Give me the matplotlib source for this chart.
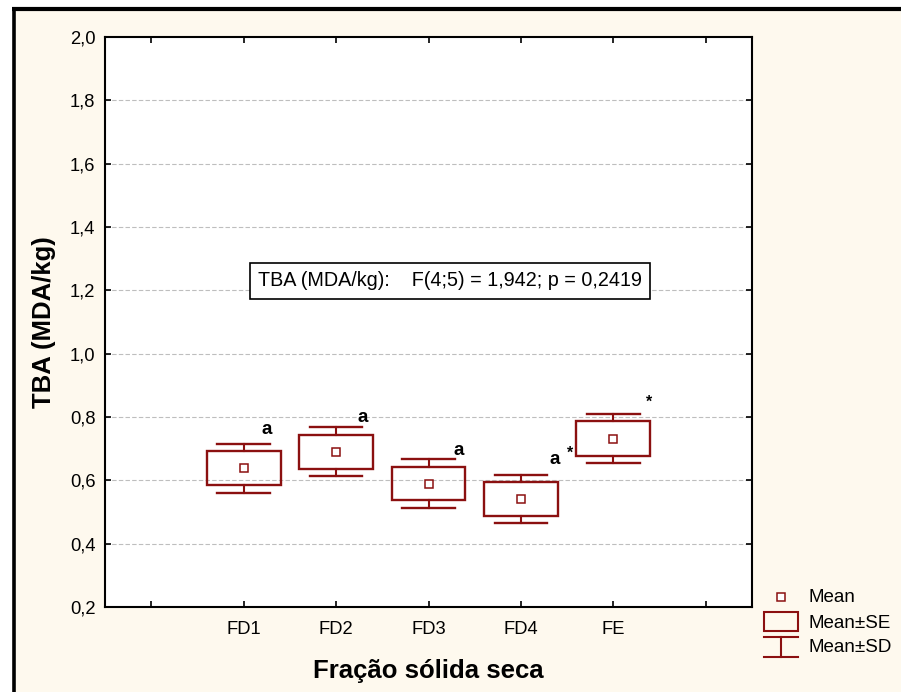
import matplotlib
matplotlib.use("Agg")
import matplotlib.pyplot as plt
from matplotlib.patches import Rectangle
from matplotlib.lines import Line2D

plt.rcParams['font.family'] = ['Liberation Sans', 'DejaVu Sans']

# Data: TBA (MDA/kg) per dried solid fraction
categories = ["FD1", "FD2", "FD3", "FD4", "FE"]
means = [0.638, 0.690, 0.590, 0.541, 0.732]
se = [0.054, 0.053, 0.053, 0.054, 0.054]
sd = [0.077, 0.077, 0.077, 0.077, 0.076]
letters = ["a", "a", "a", "a", ""]
stars = ["", "", "", "*", "*"]
anova_text = "TBA (MDA/kg):    F(4;5) = 1,942; p = 0,2419"

W, H = 901, 692
RED = "#8B1010"
CREAM = "#FEF9EE"

fig = plt.figure(figsize=(W / 100, H / 100), dpi=100, facecolor="white")


def px(x, y):
    return x / W, 1 - y / H


# cream panel with heavy top/left frame
x0, y0 = px(12, 9)
fig.add_artist(Rectangle((x0, 0), 1 - x0, y0, transform=fig.transFigure,
                         facecolor=CREAM, edgecolor="none", zorder=0))
fig.add_artist(Line2D([x0, 1], [y0, y0], transform=fig.transFigure,
                      color="black", lw=3.0, solid_capstyle="butt"))
fig.add_artist(Line2D([13.5 / W, 13.5 / W], [0, 1 - 7 / H], transform=fig.transFigure,
                      color="black", lw=2.6, solid_capstyle="butt"))

ax = fig.add_axes([105 / W, 1 - 607 / H, (752 - 105) / W, (607 - 37) / H])
ax.set_facecolor("white")

positions = list(range(len(categories)))
box_half = 0.40
cap_half = 0.283

for x, m, s_e, s_d in zip(positions, means, se, sd):
    ax.add_patch(Rectangle((x - box_half, m - s_e), 2 * box_half, 2 * s_e,
                           facecolor="none", edgecolor=RED, lw=1.7, zorder=3))
    ax.plot([x, x], [m + s_e, m + s_d], color=RED, lw=1.5, zorder=3)
    ax.plot([x, x], [m - s_e, m - s_d], color=RED, lw=1.5, zorder=3)
    ax.plot([x - cap_half, x + cap_half], [m + s_d, m + s_d], color=RED, lw=1.7, zorder=3)
    ax.plot([x - cap_half, x + cap_half], [m - s_d, m - s_d], color=RED, lw=1.7, zorder=3)
ax.plot(positions, means, linestyle="none", marker="s", ms=5.5, mfc="white",
        mec=RED, mew=1.1, zorder=4)

# group letters and significance marks
letter_dx = [0.25, 0.29, 0.33, 0.37, 0.0]
letter_dy = [0.045, 0.033, 0.027, 0.048, 0.0]
for x, m, s_d, lt, dx, dy in zip(positions, means, sd, letters, letter_dx, letter_dy):
    if lt:
        ax.text(x + dx, m + s_d + dy, lt, ha="center", va="center",
                fontsize=13.5, fontweight="bold", zorder=5)
star_dx = [0, 0, 0, 0.53, 0.39]
star_dy = [0, 0, 0, 0.068, 0.038]
for x, m, s_d, st, dx, dy in zip(positions, means, sd, stars, star_dx, star_dy):
    if st:
        ax.text(x + dx, m + s_d + dy, st, ha="center", va="center",
                fontsize=11.5, fontweight="bold", zorder=5)

ax.set_xlim(-1.5, 5.5)
ax.set_ylim(0.2, 2.0)
ax.set_xticks(range(-1, 6))
ax.set_xticklabels([""] + categories + [""])
yt = [0.2 + 0.2 * i for i in range(10)]
ax.set_yticks(yt)
ax.set_yticklabels([f"{v:.1f}".replace(".", ",") for v in yt])
ax.tick_params(direction="in", length=4, width=1.2, top=True, right=True,
               labelsize=13.2, colors="black")
ax.tick_params(axis="y", pad=7)
ax.tick_params(axis="x", pad=10)
for v in yt[1:-1]:
    ax.axhline(v, color="#BEBEBE", lw=0.8, ls=(0, (4, 2)), zorder=1)
for sp in ax.spines.values():
    sp.set_linewidth(1.5)

ax.set_xlabel("Fração sólida seca", fontsize=18.5, fontweight="bold", labelpad=15)
ax.set_ylabel("TBA (MDA/kg)", fontsize=18.5, fontweight="bold", labelpad=10)

ax.text(0.533, 0.572, anova_text, transform=ax.transAxes, ha="center", va="center",
        fontsize=14.2, zorder=6,
        bbox=dict(boxstyle="square,pad=0.42", facecolor="white", edgecolor="black", lw=1.2))

# legend
lx0, lx1 = 764, 798
mx = (lx0 + lx1) / 2
fig.add_artist(Line2D([px(mx, 0)[0]], [px(0, 597)[1]], transform=fig.transFigure,
                      linestyle="none", marker="s", ms=5.5, mfc="white", mec=RED, mew=1.1))
bx, by = px(lx0, 631)
fig.add_artist(Rectangle((bx, by), (lx1 - lx0) / W, (631 - 612) / H, transform=fig.transFigure,
                         facecolor="none", edgecolor=RED, lw=1.5))
fig.add_artist(Line2D([lx0 / W, lx1 / W], [px(0, 637)[1]] * 2, transform=fig.transFigure,
                      color=RED, lw=1.5))
fig.add_artist(Line2D([lx0 / W, lx1 / W], [px(0, 657)[1]] * 2, transform=fig.transFigure,
                      color=RED, lw=1.5))
fig.add_artist(Line2D([mx / W, mx / W], [px(0, 637)[1], px(0, 657)[1]], transform=fig.transFigure,
                      color=RED, lw=1.5))
for label, yy in [("Mean", 598), ("Mean±SE", 623), ("Mean±SD", 648)]:
    fig.text(808 / W, px(0, yy)[1], label, ha="left", va="center", fontsize=13.5)

fig.savefig("out.png", dpi=100, facecolor=fig.get_facecolor())
